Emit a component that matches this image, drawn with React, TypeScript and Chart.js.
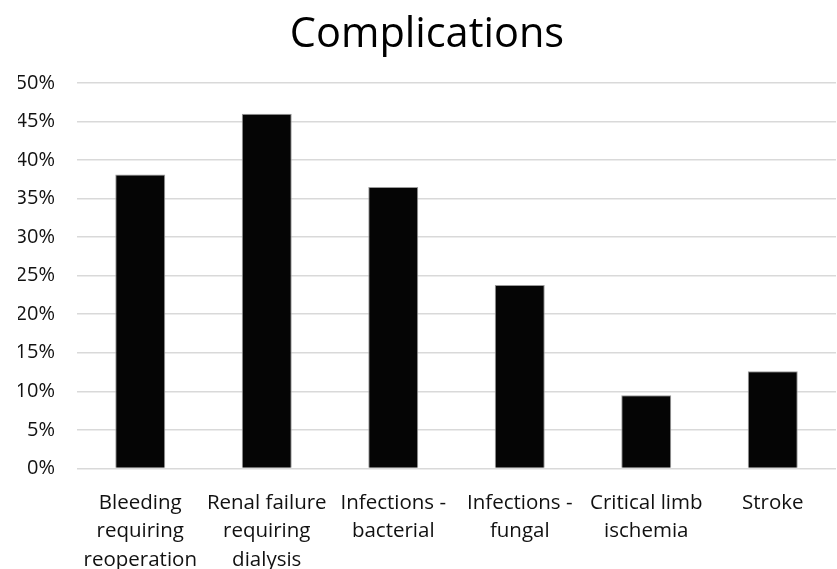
import React, { useEffect, useRef } from "react";
import { Chart, registerables } from "chart.js";

Chart.register(...registerables);

const categories: string[][] = [
  ["Bleeding", "requiring", "reoperation"],
  ["Renal failure", "requiring", "dialysis"],
  ["Infections -", "bacterial"],
  ["Infections -", "fungal"],
  ["Critical limb", "ischemia"],
  ["Stroke"],
];

const complicationRates: number[] = [38.1, 46.0, 36.5, 23.8, 9.5, 12.6];

const yTickMax = 50;
const yTickStep = 5;

const FONT = "'Open Sans', 'Noto Sans', sans-serif";

export default function App() {
  const canvasRef = useRef<HTMLCanvasElement | null>(null);

  useEffect(() => {
    const canvas = canvasRef.current;
    if (!canvas) return;
    const chart = new Chart(canvas, {
      type: "bar",
      data: {
        labels: categories,
        datasets: [
          {
            label: "Complications",
            data: complicationRates,
            backgroundColor: "#050505",
            borderColor: "#9a9a9a",
            borderWidth: 1,
            categoryPercentage: 1,
            barPercentage: 0.395,
          },
        ],
      },
      options: {
        animation: false,
        responsive: false,
        maintainAspectRatio: false,
        layout: { padding: { top: 0, right: 1, left: 18, bottom: 0 } },
        plugins: {
          legend: { display: false },
          tooltip: { enabled: false },
          title: {
            display: true,
            text: "Complications",
            color: "#000",
            font: { family: FONT, size: 41.5, weight: "normal", lineHeight: 1.2 },
            padding: { top: 10, bottom: 23 },
          },
        },
        scales: {
          x: {
            grid: { display: false },
            border: { display: false },
            ticks: {
              color: "#111",
              font: { family: FONT, size: 20.5, lineHeight: 1.37 },
              maxRotation: 0,
              autoSkip: false,
              padding: 13,
            },
            afterFit: (scale: any) => {
              scale.height = 100.5;
            },
          },
          y: {
            min: 0,
            max: yTickMax,
            grid: { color: "#d9d9d9", lineWidth: 1.5, drawTicks: false },
            border: { display: false },
            ticks: {
              stepSize: yTickStep,
              color: "#111",
              font: { family: FONT, size: 20 },
              padding: 22,
              callback: (v: any) => `${v}%`,
            },
            afterFit: (scale: any) => {
              scale.width = 59;
            },
          },
        },
      },
    });
    return () => chart.destroy();
  }, []);

  return (
    <div style={{ position: "fixed", left: 0, top: 0, width: 837, height: 569, background: "#fff" }}>
      <canvas ref={canvasRef} width={837} height={569} style={{ width: 837, height: 569 }} />
    </div>
  );
}
